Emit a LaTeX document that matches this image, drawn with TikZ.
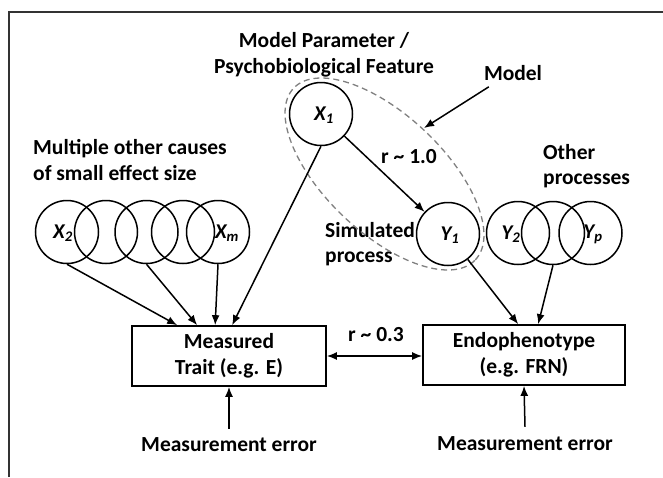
\documentclass[tikz,border=0pt]{standalone}
\usepackage{fontspec}
\setmainfont{Carlito}
\usetikzlibrary{arrows.meta,calc}
\begin{document}
\begin{tikzpicture}[x=1pt,y=-1pt,
  lbl/.style={font=\bfseries\fontsize{21.5}{25.5}\selectfont, inner sep=0pt, align=center},
  lbll/.style={lbl, align=left, anchor=west},
  circ/.style={circle, draw, line width=1.5pt, minimum size=63pt, inner sep=0pt},
  vlab/.style={font=\bfseries\itshape\fontsize{21}{24}\selectfont, inner sep=0pt},
  box/.style={draw, line width=1.7pt, minimum height=60pt, inner sep=0pt, align=center, font=\bfseries\fontsize{21.5}{26}\selectfont},
  arr/.style={line width=1.5pt, -{Latex[length=10pt,width=8pt]}},
  darr/.style={line width=1.5pt, {Latex[length=10pt,width=8pt]}-{Latex[length=10pt,width=8pt]}},
  frame/.style={line width=1.2pt, draw=black!80}
]
\useasboundingbox (0,0) rectangle (663,477);
\draw[frame] (9,477) -- (9,12) -- (663,12);

% titles
\node[lbl] (mp) at (324,55) {Model Parameter /\\Psychobiological Feature};
\node[lbl] (model) at (513,73) {Model};
\node[lbll] (moc) at (33,160) {Multiple other causes\\of small effect size};
\node[lbll] (op) at (543,166) {Other\\processes};
\node[lbll] (sp) at (325,244) {Simulated\\process};
\node[lbl] (r1) at (409,157) {r \textasciitilde{} 1.0};

% model ellipse
\draw[dashed, dash pattern=on 6pt off 4pt, line width=1.3pt, draw=black!50, rotate around={-43.4:(384.5,174)}] (384.5,174) ellipse [x radius=125pt, y radius=59pt];

% circles
\node[circ] (X1) at (321,114) {};
\node[vlab] (X1l) at (324,115) {X\textsubscript{1}};
\node[circ] (c1) at (67,232) {};
\node[circ] (c2) at (106,232) {};
\node[circ] (c3) at (146.5,232) {};
\node[circ] (c4) at (183,232) {};
\node[circ] (c5) at (218,232) {};
\node[vlab] (X2l) at (63,233) {X\textsubscript{2}};
\node[vlab] (Xml) at (227,233) {X\textsubscript{m}};
\node[circ] (Y1) at (448,234) {};
\node[vlab] (Y1l) at (450,235) {Y\textsubscript{1}};
\node[circ] (d1) at (518,233) {};
\node[circ] (d2) at (553,233) {};
\node[circ] (d3) at (590.5,233) {};
\node[vlab] (Y2l) at (511,234) {Y\textsubscript{2}};
\node[vlab] (Ypl) at (593,234) {Y\textsubscript{p}};

% boxes
\node[box, minimum width=194pt] (mt) at (229,356) {Measured\\Trait (e.g. E)};
\node[box, minimum width=202pt] (ep) at (524,355) {Endophenotype\\(e.g. FRN)};
\node[lbl] (me1) at (229,445) {Measurement error};
\node[lbl] (me2) at (525,444) {Measurement error};
\node[lbl] (r3) at (376,335) {r \textasciitilde{} 0.3};

% targets
\coordinate (t1) at ($(mt.north west)+(46,0)$);
\coordinate (t2) at ($(mt.north west)+(66,0)$);
\coordinate (t3) at ($(mt.north west)+(84,0)$);
\coordinate (t4) at ($(mt.north west)+(101,0)$);
\coordinate (e1) at ($(ep.north west)+(96,0)$);
\coordinate (e2) at ($(ep.north west)+(116,0)$);
\coordinate (ms) at ($(model.south west)+(5,6)$);
\coordinate (mtip) at (424,128);
\coordinate (s1) at ($(me1.north)+(0,-9)$);
\coordinate (s2) at ($(me2.north)+(0,-10)$);

% connectors
\draw[arr] (ms) -- (mtip);
\draw[arr] (X1) -- (Y1);
\draw[arr] (X1.south) -- (t4);
\draw[arr] (c1.south) -- (t1);
\draw[arr] (c3.south) -- (t2);
\draw[arr] (c5.south) -- (t3);
\draw[arr] (Y1) -- (e1);
\draw[arr] (d2.south) -- (e2);
\draw[darr] (mt.east) -- (ep.west |- mt.east);
\draw[arr] (s1) -- (mt.south);
\draw[arr] (s2) -- (ep.south);
\end{tikzpicture}
\end{document}
